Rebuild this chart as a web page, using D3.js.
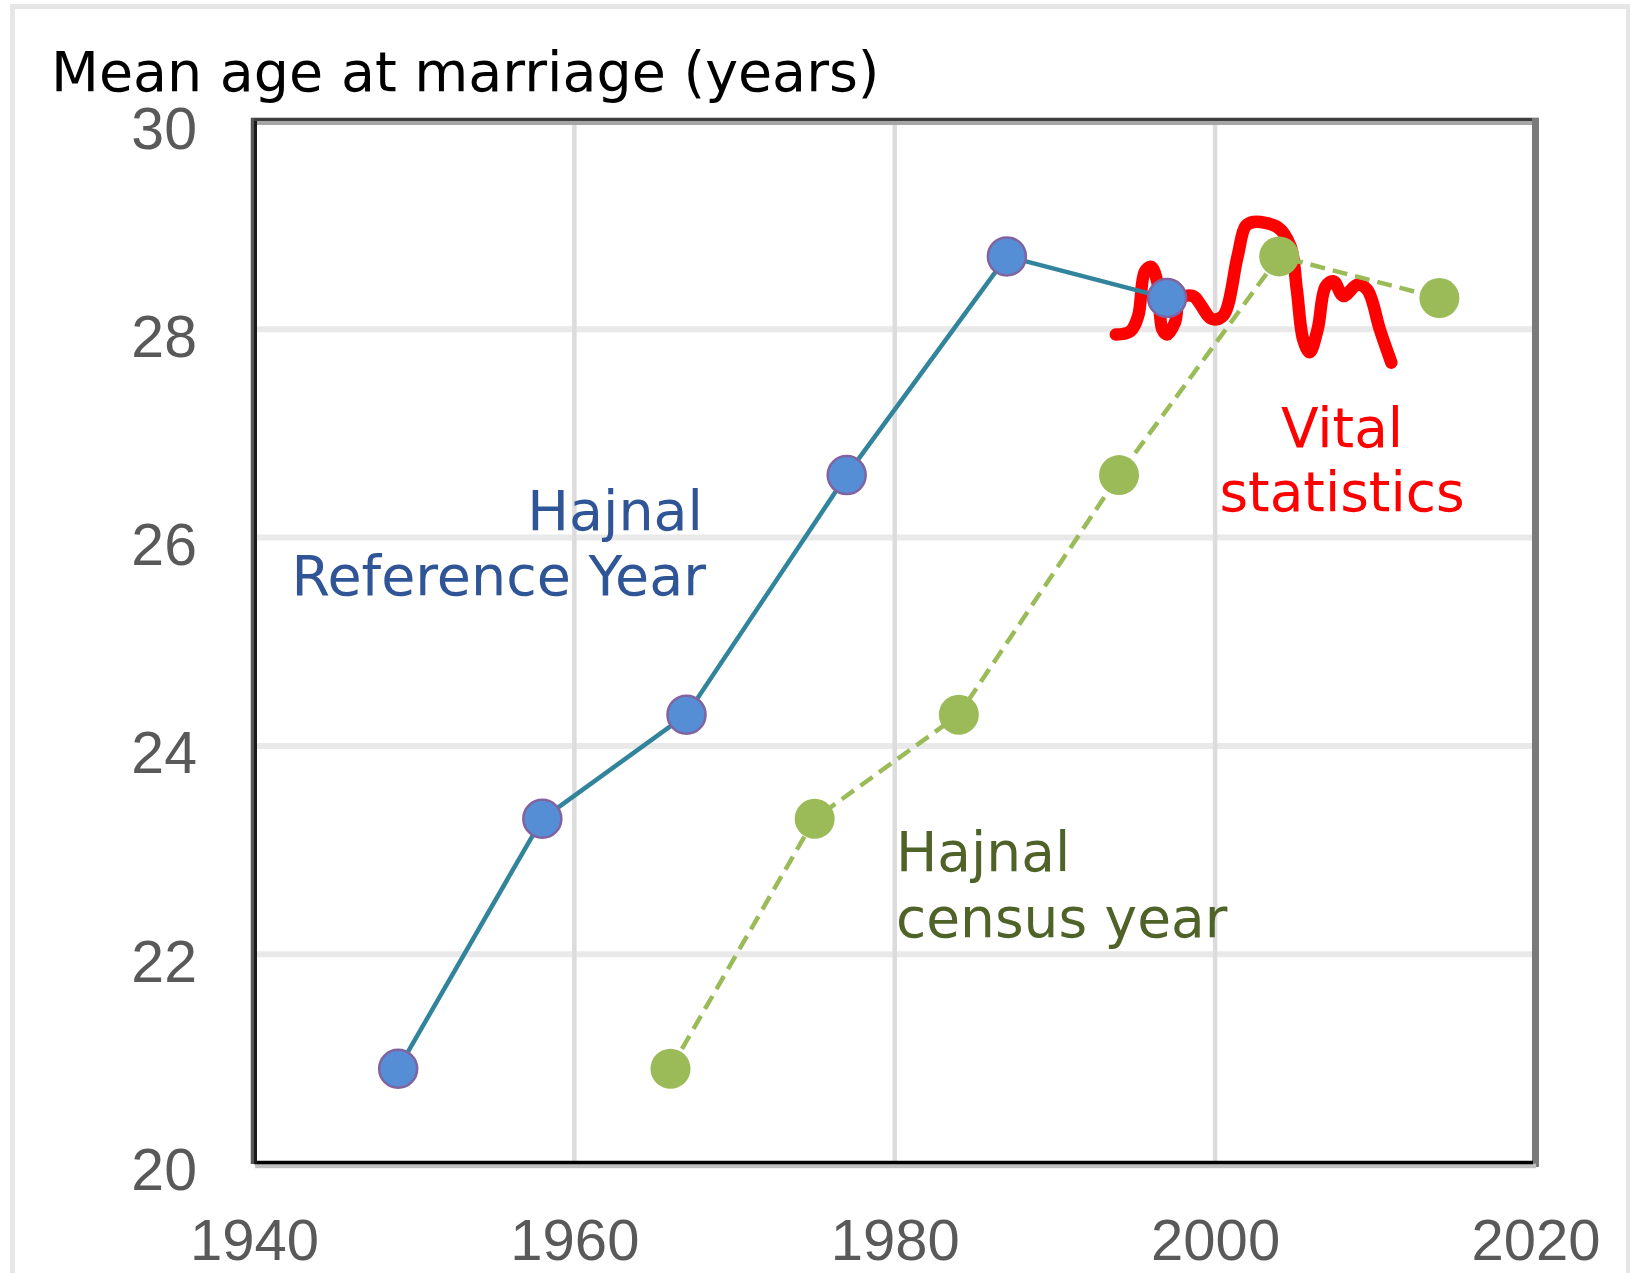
<!DOCTYPE html>
<html>
<head>
<meta charset="utf-8">
<script src="https://cdn.jsdelivr.net/npm/d3@7"></script>
<style>
  html, body { margin: 0; padding: 0; background: #ffffff; }
  svg { display: block; }
</style>
</head>
<body>
<svg id="chart" width="1630" height="1273"></svg>
<script>
// ---------------- data ----------------
const xTicks = [1940, 1960, 1980, 2000, 2020];
const yTicks = [20, 22, 24, 26, 28, 30];
const xTickLabels = ["1940", "1960", "1980", "2000", "2020"];
const yTickLabels = ["20", "22", "24", "26", "28", "30"];

const refYears = [1949, 1958, 1967, 1977, 1987, 1997];
const refValues = [20.9, 23.3, 24.3, 26.6, 28.7, 28.3];

const censusYears = [1966, 1975, 1984, 1994, 2004, 2014];
const censusValues = [20.9, 23.3, 24.3, 26.6, 28.7, 28.3];

const vitalYears = [1993.8, 1994.7, 1995.2, 1995.6, 1996.0, 1996.4, 1996.7, 1997.0, 1997.5, 1997.8,
  1998.6, 1999.8, 2000.5, 2001.4, 2001.9, 2002.4, 2003.9, 2004.7, 2005.1, 2005.5,
  2005.9, 2006.4, 2006.9, 2007.4, 2008.0, 2008.9, 2009.5, 2010.3, 2011.0];
const vitalValues = [27.95, 27.98, 28.13, 28.55, 28.60, 28.45, 28.0, 27.95, 28.07, 28.29,
  28.32, 28.10, 28.13, 28.70, 28.99, 29.03, 28.98, 28.80, 28.38, 27.90,
  27.78, 28.0, 28.41, 28.46, 28.32, 28.43, 28.38, 27.99, 27.68];

const titleText = "Mean age at marriage (years)";
const refLabel = ["Hajnal", "Reference Year"];
const censusLabel = ["Hajnal", "census year"];
const vitalLabel = ["Vital", "statistics"];

// ---------------- layout ----------------
const svg = d3.select("#chart");
const L = 254, R = 1535.5, T = 121, B = 1162.5;

const x = d3.scaleLinear().domain([1940, 2020]).range([L, R]);
const y = d3.scaleLinear().domain([20, 30]).range([B, T]);

// outer light frame
svg.append("rect").attr("x", 12.5).attr("y", 6.5).attr("width", 1616).attr("height", 1280)
  .attr("fill", "#ffffff").attr("stroke", "#e6e6e6").attr("stroke-width", 5);

// gridlines
const grid = svg.append("g");
grid.selectAll("line.h").data(yTicks.filter(v => v > 20 && v < 30)).enter().append("line")
  .attr("x1", L).attr("x2", R).attr("y1", d => y(d)).attr("y2", d => y(d))
  .attr("stroke", "#e9e9e9").attr("stroke-width", 6);
grid.selectAll("line.v").data(xTicks.filter(v => v > 1940 && v < 2020)).enter().append("line")
  .attr("y1", T).attr("y2", B).attr("x1", d => x(d)).attr("x2", d => x(d))
  .attr("stroke", "#dcdcdc").attr("stroke-width", 4.5);

// frame (3D-like borders)
const frame = svg.append("g");
frame.append("line").attr("x1", 251).attr("x2", 1539).attr("y1", 119.5).attr("y2", 119.5).attr("stroke", "#3f3f3f").attr("stroke-width", 3.5);
frame.append("line").attr("x1", 255).attr("x2", 1532).attr("y1", 123).attr("y2", 123).attr("stroke", "#a6a6a6").attr("stroke-width", 4);
frame.append("line").attr("x1", 1535.5).attr("x2", 1535.5).attr("y1", 118).attr("y2", 1167).attr("stroke", "#7a7a7a").attr("stroke-width", 7);
frame.append("line").attr("x1", 255).attr("x2", 1536).attr("y1", 1166).attr("y2", 1166).attr("stroke", "#c0c0c0").attr("stroke-width", 4.5);
frame.append("line").attr("x1", 254).attr("x2", 1533).attr("y1", 1162.5).attr("y2", 1162.5).attr("stroke", "#000000").attr("stroke-width", 3.5);
frame.append("line").attr("x1", 252.5).attr("x2", 252.5).attr("y1", 118).attr("y2", 1164).attr("stroke", "#555555").attr("stroke-width", 3.5);
frame.append("line").attr("x1", 255.5).attr("x2", 255.5).attr("y1", 121).attr("y2", 1164).attr("stroke", "#1a1a1a").attr("stroke-width", 3);

// axes (labels only)
const yAxis = d3.axisLeft(y).tickValues(yTicks).tickFormat((d, i) => yTickLabels[i]).tickSize(0);
const gy = svg.append("g").attr("transform", `translate(${L},0)`).call(yAxis);
gy.select(".domain").remove();
gy.selectAll("text")
  .attr("x", 197 - L).attr("dy", null).attr("y", 0)
  .attr("transform", "translate(0,27)")
  .attr("text-anchor", "end")
  .attr("font-family", "'Liberation Sans', Arial, sans-serif")
  .attr("font-size", 59).attr("fill", "#595959");

const xAxis = d3.axisBottom(x).tickValues(xTicks).tickFormat((d, i) => xTickLabels[i]).tickSize(0);
const gx = svg.append("g").attr("transform", `translate(0,${B})`).call(xAxis);
gx.select(".domain").remove();
gx.selectAll("text")
  .attr("y", 1260 - B).attr("dy", null)
  .attr("text-anchor", "middle")
  .attr("font-family", "'Liberation Sans', Arial, sans-serif")
  .attr("font-size", 58).attr("fill", "#595959");

// title
svg.append("text").attr("x", 51).attr("y", 91)
  .attr("font-family", "'DejaVu Sans', Verdana, sans-serif").attr("font-size", 55.5).attr("fill", "#000")
  .text(titleText);

// vital statistics line
const vital = vitalYears.map((d, i) => [d, vitalValues[i]]);
svg.append("path").datum(vital)
  .attr("d", d3.line().x(d => x(d[0])).y(d => y(d[1])).curve(d3.curveCatmullRom.alpha(0.5)))
  .attr("fill", "none").attr("stroke", "#ff0000").attr("stroke-width", 12.5)
  .attr("stroke-linecap", "round").attr("stroke-linejoin", "round");

// reference-year and census-year series
const ref = refYears.map((d, i) => [d, refValues[i]]);
const cen = censusYears.map((d, i) => [d, censusValues[i]]);
const line = d3.line().x(d => x(d[0])).y(d => y(d[1]));

svg.append("path").datum(ref).attr("d", line)
  .attr("fill", "none").attr("stroke", "#31849b").attr("stroke-width", 4.5);
svg.append("path").datum(cen).attr("d", line)
  .attr("fill", "none").attr("stroke", "#9bbb59").attr("stroke-width", 4.5)
  .attr("stroke-dasharray", "15,8");

svg.append("g").selectAll("circle").data(ref).enter().append("circle")
  .attr("cx", d => x(d[0])).attr("cy", d => y(d[1])).attr("r", 19)
  .attr("fill", "#558ed5").attr("stroke", "#8064a2").attr("stroke-width", 2.5);
svg.append("g").selectAll("circle").data(cen).enter().append("circle")
  .attr("cx", d => x(d[0])).attr("cy", d => y(d[1])).attr("r", 20)
  .attr("fill", "#9bbb59");

// annotations
const font = "'DejaVu Sans', Verdana, sans-serif";
const refT = svg.append("text").attr("font-family", font).attr("font-size", 55.5).attr("fill", "#2f5597").attr("text-anchor", "end");
refT.append("tspan").attr("x", 703).attr("y", 530).text(refLabel[0]);
refT.append("tspan").attr("x", 706).attr("y", 595).text(refLabel[1]);

const cenT = svg.append("text").attr("font-family", font).attr("font-size", 55).attr("fill", "#4f6228");
cenT.append("tspan").attr("x", 896).attr("y", 871).text(censusLabel[0]);
cenT.append("tspan").attr("x", 896).attr("y", 937).text(censusLabel[1]);

const vitT = svg.append("text").attr("font-family", font).attr("font-size", 55).attr("fill", "#ff0000").attr("text-anchor", "middle");
vitT.append("tspan").attr("x", 1342).attr("y", 447).text(vitalLabel[0]);
vitT.append("tspan").attr("x", 1342).attr("y", 511).text(vitalLabel[1]);
</script>
</body>
</html>
